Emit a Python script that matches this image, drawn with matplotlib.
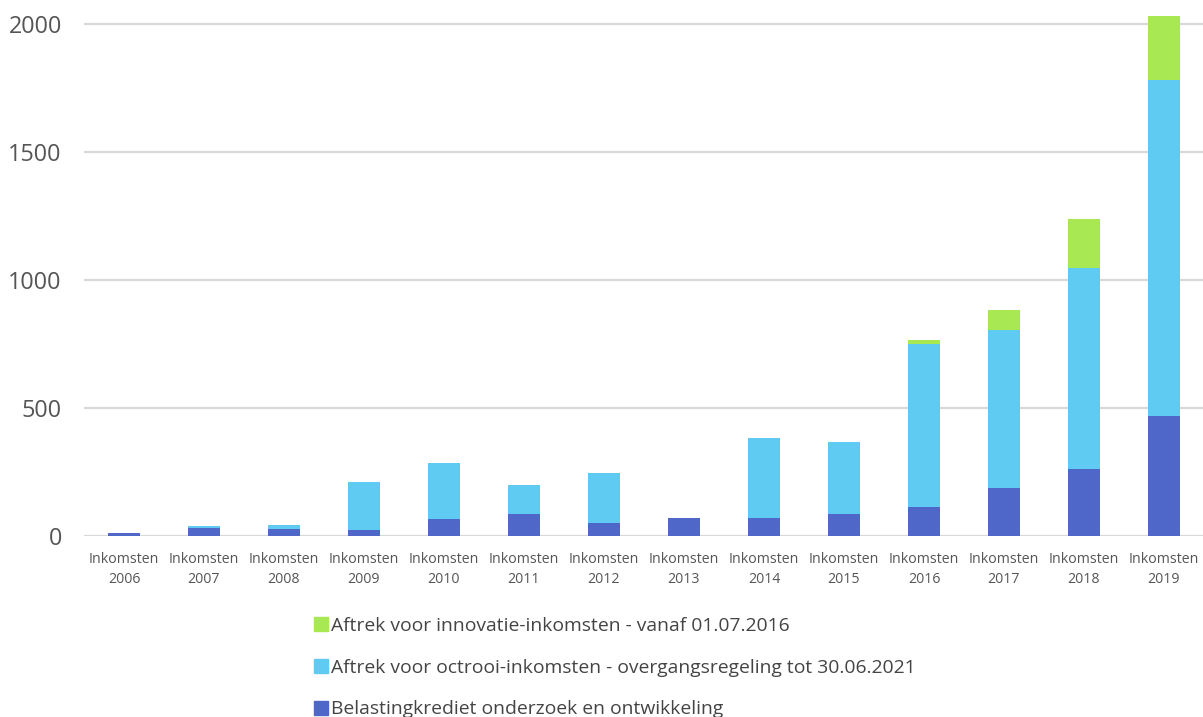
import matplotlib
matplotlib.use("Agg")
import matplotlib.pyplot as plt
from matplotlib.lines import Line2D

years = ["2006", "2007", "2008", "2009", "2010", "2011", "2012",
         "2013", "2014", "2015", "2016", "2017", "2018", "2019"]
labels = ["Inkomsten\n" + y for y in years]
belastingkrediet = [12, 32, 28, 26, 68, 87, 53, 73, 72, 87, 116, 191, 264, 470]
octrooi = [0, 8, 15, 185, 220, 115, 196, 0, 312, 281, 635, 615, 786, 1312]
innovatie = [0, 0, 0, 0, 0, 0, 0, 0, 0, 0, 17, 77, 189, 252]
series_names = ["Belastingkrediet onderzoek en ontwikkeling",
                "Aftrek voor octrooi-inkomsten - overgangsregeling tot 30.06.2021",
                "Aftrek voor innovatie-inkomsten - vanaf 01.07.2016"]
colors = ["#4f67c8", "#5fcbf2", "#a8e953"]
yticks = [0, 500, 1000, 1500, 2000]

plt.rcParams['font.family'] = ['Open Sans', 'DejaVu Sans']

fig = plt.figure(figsize=(12.03, 7.17), dpi=100)
ax = fig.add_axes([84 / 1203, (717 - 536.4) / 717, (1203 - 84) / 1203, 536.4 / 717])

x = list(range(len(years)))
w = 0.4
ax.bar(x, belastingkrediet, w, color=colors[0], zorder=3)
bottom2 = belastingkrediet
ax.bar(x, octrooi, w, bottom=bottom2, color=colors[1], zorder=3)
bottom3 = [a + b for a, b in zip(belastingkrediet, octrooi)]
ax.bar(x, innovatie, w, bottom=bottom3, color=colors[2], zorder=3)

ax.set_xlim(-0.5, len(years) - 0.5 - 1 / 80)
ax.set_ylim(0, 536.4 / 0.256)
ax.set_yticks(yticks)
ax.set_yticklabels([str(v) for v in yticks], fontsize=16.8, color="#555555")
ax.set_xticks(x)
ax.set_xticklabels(labels, fontsize=10.2, color="#555555", linespacing=1.5)
ax.grid(axis="y", color="#d9d9d9", linewidth=1.6, zorder=0)
ax.tick_params(axis="both", length=0)
ax.tick_params(axis="y", pad=16)
ax.tick_params(axis="x", pad=11)
for s in ax.spines.values():
    s.set_visible(False)

handles = [Line2D([0], [0], marker="s", linestyle="none", markersize=9.5,
                  markerfacecolor=colors[i], markeredgecolor=colors[i])
           for i in (2, 1, 0)]
names = [series_names[i] for i in (2, 1, 0)]
fig.legend(handles, names, loc="upper left", bbox_to_anchor=(314 / 1203, 1 - 617 / 717),
           frameon=False, fontsize=13.85, handlelength=0.7, handletextpad=0.2,
           labelspacing=1.23, labelcolor="#444444", borderaxespad=0, borderpad=0)

fig.savefig("out.png", dpi=100)
